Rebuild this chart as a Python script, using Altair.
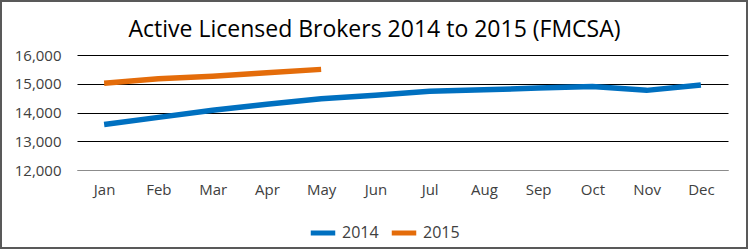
import altair as alt
import pandas as pd

months = ["Jan", "Feb", "Mar", "Apr", "May", "Jun", "Jul", "Aug", "Sep", "Oct", "Nov", "Dec"]
brokers_2014 = [13580, 13830, 14080, 14290, 14480, 14600, 14740, 14790, 14850, 14900, 14770, 14960]
brokers_2015 = [15020, 15175, 15265, 15385, 15500]
series_names = ["2014", "2015"]
series_colors = ["#0070C0", "#E46C0A"]
y_ticks = [12000, 13000, 14000, 15000, 16000]

rows = []
for m, v in zip(months, brokers_2014):
    rows.append({"Month": m, "Year": "2014", "Brokers": v})
for m, v in zip(months, brokers_2015):
    rows.append({"Month": m, "Year": "2015", "Brokers": v})
df = pd.DataFrame(rows)

FONT = "Open Sans"

lines = alt.Chart(df).mark_line(strokeWidth=5.5, strokeCap="butt").encode(
    x=alt.X("Month:N", sort=months, scale=alt.Scale(type="point", padding=0.5),
            axis=alt.Axis(title=None, ticks=False, labelPadding=12, labelAngle=0,
                          domainColor="#8c8c8c", domainWidth=1, grid=False,
                          labelFont=FONT, labelFontSize=15, labelColor="#404040")),
    y=alt.Y("Brokers:Q", scale=alt.Scale(domain=[12000, 16000], nice=False, zero=False),
            axis=alt.Axis(title=None, values=y_ticks, format=",.0f", ticks=False, domain=False,
                          labelPadding=16, grid=True,
                          labelFont=FONT, labelFontSize=15, labelColor="#404040",
                          gridColor=alt.condition("datum.value == 12000", alt.value("#8c8c8c"), alt.value("#000000")),
                          gridWidth=1)),
    color=alt.Color("Year:N", scale=alt.Scale(domain=series_names, range=series_colors),
                    legend=alt.Legend(title=None, orient="none", direction="horizontal",
                                      legendX=231, legendY=163, symbolType="stroke",
                                      symbolSize=600, symbolStrokeWidth=5,
                                      labelFontSize=16, labelFont=FONT, labelColor="#404040",
                                      columnPadding=2, labelOffset=4)),
)

frame = alt.Chart(pd.DataFrame({"a": [0]})).mark_rect(fill=None, stroke="#595959", strokeWidth=2).encode(
    x=alt.value(-76), x2=alt.value(670), y=alt.value(-54), y2=alt.value(193)
)

chart = alt.layer(lines, frame).properties(
    width=651, height=115,
    autosize=alt.AutoSizeParams(type="none"),
    padding={"left": 77, "top": 55, "right": 23, "bottom": 81},
    background="white",
    title=alt.TitleParams("Active Licensed Brokers 2014 to 2015 (FMCSA)", anchor="middle",
                          font=FONT, fontSize=23, fontWeight="normal", color="#000000",
                          offset=-42, dx=-28),
).configure_view(stroke=None)

chart.save("out.html", embed_options={"renderer": "svg", "actions": False})
